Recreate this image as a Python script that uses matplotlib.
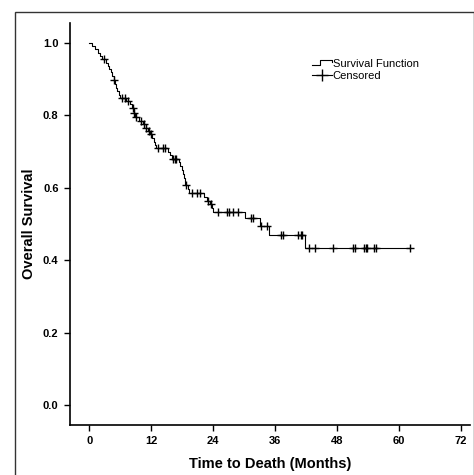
import numpy as np
import matplotlib
matplotlib.use("Agg")
import matplotlib.pyplot as plt
from matplotlib.lines import Line2D
from matplotlib.legend_handler import HandlerBase
from matplotlib.patches import Rectangle

plt.rcParams['font.family'] = ['Liberation Sans', 'DejaVu Sans']

# step drops of the Kaplan-Meier curve (months, survival after the drop)
event_t = [0.6, 1.1, 1.6, 2.1, 2.5, 3.2, 3.6, 3.9, 4.2, 4.5, 4.7, 5.0, 5.2, 5.4,
           5.7, 6.0, 7.2, 7.9, 8.2, 8.6, 8.9, 9.6, 10.4, 10.9, 11.3, 11.7, 12.1,
           12.5, 12.7, 13.0, 15.2, 15.6, 16.0, 17.3, 17.6, 17.9, 18.1, 18.3, 18.5,
           18.6, 19.2, 19.4, 22.3, 22.9, 23.4, 23.7, 24.0, 30.2, 33.0, 34.9, 41.8]
event_s = [0.991, 0.982, 0.972, 0.963, 0.954, 0.945, 0.936, 0.927, 0.918, 0.908,
           0.897, 0.887, 0.876, 0.866, 0.856, 0.849, 0.840, 0.830, 0.820, 0.805,
           0.795, 0.785, 0.776, 0.766, 0.757, 0.747, 0.737, 0.727, 0.718, 0.709,
           0.699, 0.690, 0.680, 0.670, 0.660, 0.649, 0.638, 0.627, 0.617, 0.608,
           0.597, 0.585, 0.575, 0.565, 0.555, 0.544, 0.534, 0.516, 0.494, 0.470,
           0.435]
# censored observations (months)
censor_t = [2.8, 4.8, 6.4, 6.9, 7.6, 8.4, 8.7, 9.0, 10.1, 10.6, 11.0, 11.5, 11.9,
            13.4, 14.3, 14.7, 16.3, 16.6, 16.9, 18.7, 20.0, 20.8, 21.5, 23.1,
            23.5, 25.0, 26.6, 27.1, 27.9, 28.9, 31.3, 31.7, 33.3, 34.4, 37.2,
            37.6, 40.5, 41.0, 41.3, 42.5, 43.8, 47.2, 51.2, 51.5, 53.3, 53.6,
            53.8, 55.1, 55.6, 62.1]

x_ticks = [0, 12, 24, 36, 48, 60, 72]
y_ticks = [0.0, 0.2, 0.4, 0.6, 0.8, 1.0]


def surv_at(t):
    s = 1.0
    for et, es in zip(event_t, event_s):
        if et <= t:
            s = es
    return s


class StepHandler(HandlerBase):
    def create_artists(self, legend, orig_handle, xdescent, ydescent,
                       width, height, fontsize, trans):
        x0 = -xdescent
        lo = -ydescent + 0.2 * height
        hi = -ydescent + 0.85 * height
        xs = [x0, x0 + 0.4 * width, x0 + 0.4 * width, x0 + width, x0 + width]
        ys = [lo, lo, hi, hi, 0.55 * height - ydescent]
        line = Line2D(xs, ys, color='black', lw=0.8)
        line.set_transform(trans)
        return [line]


fig = plt.figure(figsize=(4.74, 4.75), dpi=100)
fig.patches.append(Rectangle((15 / 474, -0.05), 458.5 / 474, 1.05 - 12 / 475,
                             transform=fig.transFigure, fill=False,
                             edgecolor='#333333', lw=1.0))
ax = fig.add_axes([0.147, 0.1053, 0.8446, 0.8467])

step_x = [0.0] + event_t + [censor_t[-1]]
step_y = [1.0] + event_s + [event_s[-1]]
surv_line, = ax.step(step_x, step_y, where='post', color='black', lw=0.8)
cens_y = [surv_at(t) for t in censor_t]
ax.plot(censor_t, cens_y, ls='none', marker='+', ms=6, mew=1.0, color='black')

ax.set_xlim(-3.8, 73.8)
ax.set_ylim(-0.054, 1.055)
ax.set_xticks(x_ticks)
ax.set_yticks(y_ticks)
ax.set_xticklabels([str(v) for v in x_ticks], fontweight='bold', fontsize=8)
ax.set_yticklabels(['%.1f' % v for v in y_ticks], fontweight='bold', fontsize=8)
ax.tick_params(direction='out', length=4, width=1.0, pad=4)
for s in ['top', 'right']:
    ax.spines[s].set_visible(False)
for s in ['left', 'bottom']:
    ax.spines[s].set_linewidth(1.2)

ax.set_xlabel('Time to Death (Months)', fontweight='bold', fontsize=10.5, labelpad=8)
ax.set_ylabel('Overall Survival', fontweight='bold', fontsize=10.5, labelpad=5)

cens_handle = Line2D([0], [0], color='black', lw=0.8, marker='+', ms=8, mew=1.0)
ax.legend([surv_line, cens_handle], ['Survival Function', 'Censored'],
          handler_map={surv_line: StepHandler()}, loc='upper left',
          bbox_to_anchor=(0.585, 0.93), frameon=False, fontsize=8,
          handlelength=1.8, handletextpad=0.1, labelspacing=0.2,
          borderpad=0.2)

fig.savefig('out.png', dpi=100)
